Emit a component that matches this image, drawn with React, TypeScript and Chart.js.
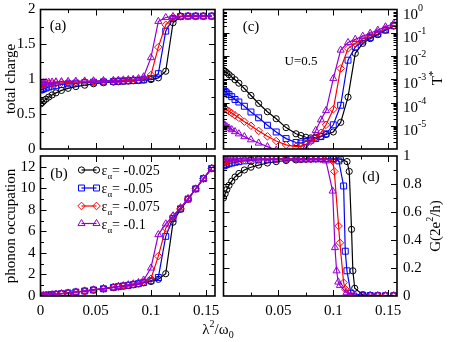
import React, { useEffect, useRef } from "react";
import { Chart, registerables } from "chart.js";

Chart.register(...registerables);

const W = 450;
const H = 342;
const SERIF = '"Liberation Serif", "Times New Roman", Times, serif';

// common lambda^2/omega_0 grid for panels (a), (b), (c)
const LAMBDA_X = [0, 0.0015, 0.003, 0.005, 0.0075, 0.0105, 0.014, 0.019, 0.025, 0.032, 0.04, 0.048, 0.057, 0.066, 0.0705, 0.075, 0.0795, 0.084, 0.0887, 0.0934, 0.1, 0.1067, 0.1134, 0.12, 0.1268, 0.1336, 0.1405, 0.1475, 0.155];

// (a) total charge
const CHARGE_EPS_0025 = [0.645, 0.665, 0.69, 0.715, 0.745, 0.775, 0.805, 0.84, 0.87, 0.895, 0.915, 0.935, 0.95, 0.96, 0.965, 0.97, 0.975, 0.978, 0.982, 0.988, 0.995, 1.02, 1.115, 1.81, 1.9, 1.905, 1.905, 1.905, 1.905];
const CHARGE_EPS_005 = [0.845, 0.855, 0.865, 0.875, 0.888, 0.9, 0.912, 0.925, 0.935, 0.945, 0.952, 0.958, 0.963, 0.968, 0.972, 0.975, 0.978, 0.982, 0.986, 0.992, 1.01, 1.08, 1.69, 1.87, 1.9, 1.905, 1.905, 1.905, 1.905];
const CHARGE_EPS_0075 = [0.915, 0.92, 0.925, 0.93, 0.935, 0.94, 0.945, 0.95, 0.955, 0.96, 0.963, 0.966, 0.97, 0.974, 0.977, 0.98, 0.984, 0.988, 0.995, 1.01, 1.06, 1.46, 1.78, 1.89, 1.9, 1.905, 1.905, 1.905, 1.905];
const CHARGE_EPS_01 = [0.945, 0.948, 0.951, 0.954, 0.957, 0.96, 0.963, 0.966, 0.969, 0.972, 0.975, 0.977, 0.98, 0.983, 0.986, 0.99, 0.995, 1.0, 1.01, 1.035, 1.31, 1.83, 1.885, 1.9, 1.905, 1.905, 1.905, 1.905, 1.905];

// (b) phonon occupation
const PHONON_EPS_0025 = [0.0, 0.02, 0.04, 0.06, 0.09, 0.12, 0.16, 0.21, 0.28, 0.37, 0.46, 0.56, 0.67, 0.8, 0.86, 0.92, 0.97, 1.04, 1.12, 1.22, 1.35, 1.55, 2.07, 6.85, 8.05, 9.0, 9.95, 10.9, 11.85];
const PHONON_EPS_005 = [0.0, 0.02, 0.04, 0.06, 0.09, 0.12, 0.16, 0.21, 0.28, 0.37, 0.46, 0.56, 0.67, 0.8, 0.87, 0.93, 0.99, 1.06, 1.15, 1.26, 1.42, 1.72, 5.54, 7.2, 8.1, 9.0, 9.95, 10.9, 11.85];
const PHONON_EPS_0075 = [0.0, 0.02, 0.04, 0.06, 0.09, 0.12, 0.16, 0.21, 0.28, 0.37, 0.46, 0.56, 0.68, 0.81, 0.88, 0.94, 1.01, 1.09, 1.18, 1.32, 1.6, 3.7, 6.3, 7.4, 8.15, 9.0, 9.95, 10.9, 11.85];
const PHONON_EPS_01 = [0.0, 0.02, 0.04, 0.06, 0.09, 0.12, 0.16, 0.21, 0.28, 0.37, 0.47, 0.57, 0.69, 0.82, 0.89, 0.96, 1.04, 1.13, 1.25, 1.48, 2.6, 5.7, 6.7, 7.45, 8.2, 9.05, 9.95, 10.9, 11.85];

// (c) T* (log scale)
const TSTAR_EPS_0025 = [2.45e-3, 2.14e-3, 1.9e-3, 1.58e-3, 1.26e-3, 9.5e-4, 6.8e-4, 4e-4, 2e-4, 9.1e-5, 4e-5, 2e-5, 8.3e-6, 4.5e-6, 3.8e-6, 3.2e-6, 3e-6, 3.2e-6, 3.5e-6, 4.2e-6, 5.4e-6, 1.4e-5, 1.7e-4, 1.3e-2, 3.5e-2, 5.6e-2, 8.3e-2, 0.13, 0.195];
const TSTAR_EPS_005 = [3.4e-4, 2.95e-4, 2.57e-4, 2.19e-4, 1.78e-4, 1.35e-4, 1.05e-4, 6.9e-5, 3.9e-5, 2.2e-5, 1.05e-5, 5.4e-6, 2.8e-6, 1.9e-6, 1.8e-6, 2.1e-6, 2.4e-6, 2.8e-6, 3.4e-6, 4.5e-6, 1.1e-5, 7.6e-5, 6.6e-3, 2.45e-2, 4.4e-2, 6.3e-2, 8.9e-2, 0.13, 0.2];
const TSTAR_EPS_0075 = [6.0e-5, 5.4e-5, 4.8e-5, 4.2e-5, 3.5e-5, 2.8e-5, 2.2e-5, 1.5e-5, 1.0e-5, 6.0e-6, 3.5e-6, 2.2e-6, 1.5e-6, 1.26e-6, 1.3e-6, 1.6e-6, 2.1e-6, 3.0e-6, 5.0e-6, 1.1e-5, 5.1e-5, 2.9e-3, 2.1e-2, 3.5e-2, 5.4e-2, 7.6e-2, 0.105, 0.145, 0.21];
const TSTAR_EPS_01 = [1.15e-5, 1.02e-5, 9.1e-6, 7.9e-6, 6.8e-6, 5.6e-6, 4.5e-6, 3.4e-6, 2.5e-6, 1.8e-6, 1.26e-6, 8.9e-7, 6.3e-7, 5.6e-7, 7.9e-7, 1.1e-6, 2.5e-6, 6.3e-6, 1.8e-5, 4.5e-5, 1.07e-3, 1.8e-2, 3.8e-2, 5.2e-2, 7.1e-2, 9.5e-2, 0.13, 0.18, 0.25];

// (d) conductance, each curve with its own grid
const G_X_EPS_0025 = [0, 0.0015, 0.003, 0.005, 0.0075, 0.0105, 0.014, 0.019, 0.025, 0.032, 0.04, 0.048, 0.057, 0.066, 0.0705, 0.075, 0.0795, 0.084, 0.0887, 0.0934, 0.1, 0.1067, 0.1125, 0.1145, 0.1166, 0.1178, 0.1195, 0.1268, 0.1336, 0.1405, 0.1475, 0.155];
const G_EPS_0025 = [0.7, 0.73, 0.76, 0.79, 0.82, 0.85, 0.875, 0.9, 0.92, 0.935, 0.95, 0.96, 0.968, 0.972, 0.975, 0.977, 0.978, 0.98, 0.98, 0.98, 0.98, 0.978, 0.96, 0.89, 0.476, 0.18, 0.055, 0.01, 0.006, 0.004, 0.003, 0.002];
const G_X_EPS_005 = [0, 0.0015, 0.003, 0.005, 0.0075, 0.0105, 0.014, 0.019, 0.025, 0.032, 0.04, 0.048, 0.057, 0.066, 0.0705, 0.075, 0.0795, 0.084, 0.0887, 0.0934, 0.1, 0.105, 0.1094, 0.1109, 0.1124, 0.116, 0.1268, 0.1336, 0.1405, 0.1475, 0.155];
const G_EPS_005 = [0.93, 0.935, 0.94, 0.945, 0.95, 0.955, 0.96, 0.965, 0.968, 0.972, 0.975, 0.977, 0.978, 0.98, 0.98, 0.98, 0.98, 0.98, 0.98, 0.98, 0.978, 0.965, 0.786, 0.32, 0.18, 0.02, 0.005, 0.003, 0.002, 0.002, 0.002];
const G_X_EPS_0075 = [0, 0.0015, 0.003, 0.005, 0.0075, 0.0105, 0.014, 0.019, 0.025, 0.032, 0.04, 0.048, 0.057, 0.066, 0.0705, 0.075, 0.0795, 0.084, 0.0887, 0.0934, 0.0994, 0.1009, 0.1048, 0.106, 0.1094, 0.111, 0.116, 0.1268, 0.1336, 0.1405, 0.1475, 0.155];
const G_EPS_0075 = [0.955, 0.958, 0.96, 0.963, 0.966, 0.968, 0.97, 0.972, 0.975, 0.977, 0.978, 0.979, 0.98, 0.98, 0.98, 0.98, 0.98, 0.98, 0.98, 0.98, 0.965, 0.89, 0.5, 0.38, 0.095, 0.048, 0.005, 0.003, 0.002, 0.002, 0.002, 0.002];
const G_X_EPS_01 = [0, 0.0015, 0.003, 0.005, 0.0075, 0.0105, 0.014, 0.019, 0.025, 0.032, 0.04, 0.048, 0.057, 0.066, 0.0705, 0.075, 0.0795, 0.084, 0.0887, 0.0933, 0.0994, 0.1015, 0.103, 0.1045, 0.106, 0.112, 0.12, 0.1268, 0.1336, 0.1405, 0.1475, 0.155];
const G_EPS_01 = [0.975, 0.976, 0.977, 0.978, 0.979, 0.98, 0.98, 0.98, 0.98, 0.98, 0.98, 0.98, 0.98, 0.98, 0.98, 0.98, 0.98, 0.98, 0.98, 0.965, 0.75, 0.346, 0.18, 0.1, 0.076, 0.024, 0.004, 0.002, 0.002, 0.002, 0.002, 0.002];

const EPS_LABELS = ["-0.025", "-0.05", "-0.075", "-0.1"];
const COLORS = ["#000000", "#0000ff", "#ff0000", "#9400d3"];
const MARKERS = ["circle", "rect", "rectRot", "triangle"];
const MARKER_R = [3.1, 4.2, 3.8, 4.1];

const X_MIN = 0;
const X_MAX = 0.158;
const X_MAJOR = [0, 0.05, 0.1, 0.15];
const X_TICK_LABELS = ["0", "0.05", "0.1", "0.15"];
const X_MINOR = [0.025, 0.075, 0.125];

const CHARGE_TICKS = [0, 0.5, 1, 1.5, 2];
const CHARGE_TICK_LABELS = ["0", "0.5", "1", "1.5", "2"];
const CHARGE_MINOR = [0.25, 0.75, 1.25, 1.75];

const PHONON_TICKS = [0, 2, 4, 6, 8, 10, 12];
const PHONON_TICK_LABELS = ["0", "2", "4", "6", "8", "10", "12"];
const PHONON_MINOR = [1, 3, 5, 7, 9, 11];

const TSTAR_EXPONENTS = [0, -1, -2, -3, -4, -5, -6];
const TSTAR_LABEL_EXPONENTS = ["0", "-1", "-2", "-3", "-4", "-5"];

const G_TICKS = [0, 0.2, 0.4, 0.6, 0.8, 1];
const G_TICK_LABELS = ["0", "0.2", "0.4", "0.6", "0.8", "1"];
const G_MINOR = [0.1, 0.3, 0.5, 0.7, 0.9];

type Seg = { t: string; size: number; dy?: number };

function drawRich(ctx: any, segs: Seg[], x: number, y: number, align: "left" | "center") {
  const widths = segs.map((s) => {
    ctx.font = `${s.size}px ${SERIF}`;
    return ctx.measureText(s.t).width;
  });
  const total = widths.reduce((p, w) => p + w, 0);
  let cx = align === "center" ? x - total / 2 : x;
  ctx.textAlign = "left";
  ctx.textBaseline = "alphabetic";
  segs.forEach((s, i) => {
    ctx.font = `${s.size}px ${SERIF}`;
    ctx.fillText(s.t, cx, y + (s.dy || 0));
    cx += widths[i];
  });
}

function drawRotated(ctx: any, segs: Seg[], cx: number, cy: number, baseOff: number) {
  ctx.save();
  ctx.translate(cx, cy);
  ctx.rotate(-Math.PI / 2);
  drawRich(ctx, segs, 0, baseOff, "center");
  ctx.restore();
}

function drawMarker(ctx: any, style: string, x: number, y: number, r: number, color: string) {
  ctx.beginPath();
  if (style === "circle") {
    ctx.arc(x, y, r, 0, Math.PI * 2);
  } else if (style === "rect") {
    const s = r * Math.SQRT1_2;
    ctx.rect(x - s, y - s, 2 * s, 2 * s);
  } else if (style === "rectRot") {
    ctx.moveTo(x - r, y);
    ctx.lineTo(x, y - r);
    ctx.lineTo(x + r, y);
    ctx.lineTo(x, y + r);
    ctx.closePath();
  } else {
    let rad = 0;
    ctx.moveTo(x + Math.sin(rad) * r, y - Math.cos(rad) * r);
    rad += (2 * Math.PI) / 3;
    ctx.lineTo(x + Math.sin(rad) * r, y - Math.cos(rad) * r);
    rad += (2 * Math.PI) / 3;
    ctx.lineTo(x + Math.sin(rad) * r, y - Math.cos(rad) * r);
    ctx.closePath();
  }
  ctx.strokeStyle = color;
  ctx.lineWidth = 1;
  ctx.stroke();
}

function yLabelsLeft(ctx: any, a: any, ys: any, vals: number[], labels: string[]) {
  ctx.font = `15px ${SERIF}`;
  ctx.textAlign = "right";
  ctx.textBaseline = "middle";
  vals.forEach((v, i) => ctx.fillText(labels[i], a.left - 5, ys.getPixelForValue(v)));
}

function yLabelsRight(ctx: any, a: any, ys: any, vals: number[], labels: string[]) {
  ctx.font = `15px ${SERIF}`;
  ctx.textAlign = "left";
  ctx.textBaseline = "middle";
  vals.forEach((v, i) => ctx.fillText(labels[i], a.right + 6, ys.getPixelForValue(v)));
}

function xLabels(ctx: any, a: any, xs: any, skipZero: boolean) {
  ctx.font = `15px ${SERIF}`;
  ctx.textAlign = "center";
  ctx.textBaseline = "alphabetic";
  X_MAJOR.forEach((v, i) => {
    if (skipZero && v === 0) return;
    ctx.fillText(X_TICK_LABELS[i], xs.getPixelForValue(v), a.bottom + 19);
  });
}

function panelText(ctx: any, t: string, x: number, y: number, size = 15) {
  ctx.font = `${size}px ${SERIF}`;
  ctx.textAlign = "center";
  ctx.textBaseline = "middle";
  ctx.fillText(t, x, y);
}

type Panel = {
  key: string;
  area: { left: number; top: number; right: number; bottom: number };
  yMin: number;
  yMax: number;
  yLog: boolean;
  series: { x: number[]; y: number[] }[];
  yMajor: number[];
  yMinor: number[];
  extra: (ctx: any, a: any, xs: any, ys: any) => void;
};

const logMinor: number[] = [];
TSTAR_EXPONENTS.forEach((e) => {
  if (e >= 0) return;
  for (let m = 2; m <= 9; m++) logMinor.push(m * Math.pow(10, e));
});

const PANELS: Panel[] = [
  {
    key: "a",
    area: { left: 40.5, top: 9.5, right: 215, bottom: 149 },
    yMin: 0,
    yMax: 2,
    yLog: false,
    series: [CHARGE_EPS_0025, CHARGE_EPS_005, CHARGE_EPS_0075, CHARGE_EPS_01].map((y) => ({ x: LAMBDA_X, y })),
    yMajor: CHARGE_TICKS,
    yMinor: CHARGE_MINOR,
    extra: (ctx, a, xs, ys) => {
      yLabelsLeft(ctx, a, ys, CHARGE_TICKS, CHARGE_TICK_LABELS);
      panelText(ctx, "(a)", 58, 26);
      drawRotated(ctx, [{ t: "total charge", size: 15 }], 10.5, 79, 4);
    },
  },
  {
    key: "b",
    area: { left: 40.5, top: 156, right: 215, bottom: 296 },
    yMin: 0,
    yMax: 13,
    yLog: false,
    series: [PHONON_EPS_0025, PHONON_EPS_005, PHONON_EPS_0075, PHONON_EPS_01].map((y) => ({ x: LAMBDA_X, y })),
    yMajor: PHONON_TICKS,
    yMinor: PHONON_MINOR,
    extra: (ctx, a, xs, ys) => {
      yLabelsLeft(ctx, a, ys, PHONON_TICKS, PHONON_TICK_LABELS);
      xLabels(ctx, a, xs, false);
      panelText(ctx, "(b)", 59, 174);
      drawRotated(ctx, [{ t: "phonon occupation", size: 15 }], 10.5, 226, 4);
      ctx.fillStyle = "#000";
      drawRich(
        ctx,
        [
          { t: "λ", size: 15 },
          { t: "2", size: 10, dy: -7 },
          { t: "/ω", size: 15 },
          { t: "0", size: 10, dy: 4 },
        ],
        218,
        334,
        "center"
      );
      // legend
      const rows = [170, 188, 206, 223.5];
      EPS_LABELS.forEach((lab, i) => {
        const y = rows[i];
        ctx.strokeStyle = COLORS[i];
        ctx.lineWidth = 1.2;
        ctx.beginPath();
        ctx.moveTo(81.5, y);
        ctx.lineTo(96.5, y);
        ctx.stroke();
        drawMarker(ctx, MARKERS[i], 81.5, y, MARKER_R[i], COLORS[i]);
        drawMarker(ctx, MARKERS[i], 96.5, y, MARKER_R[i], COLORS[i]);
        ctx.fillStyle = "#000";
        drawRich(
          ctx,
          [
            { t: "ε", size: 14 },
            { t: "α", size: 9, dy: 4 },
            { t: "= " + lab, size: 14 },
          ],
          101.5,
          y + 5,
          "left"
        );
      });
    },
  },
  {
    key: "c",
    area: { left: 223.5, top: 9.5, right: 397, bottom: 149 },
    yMin: 1e-6,
    yMax: 1,
    yLog: true,
    series: [TSTAR_EPS_0025, TSTAR_EPS_005, TSTAR_EPS_0075, TSTAR_EPS_01].map((y) => ({ x: LAMBDA_X, y })),
    yMajor: TSTAR_EXPONENTS.map((e) => Math.pow(10, e)),
    yMinor: logMinor,
    extra: (ctx, a, xs, ys) => {
      TSTAR_LABEL_EXPONENTS.forEach((ex, i) => {
        const py = ys.getPixelForValue(Math.pow(10, TSTAR_EXPONENTS[i]));
        drawRich(
          ctx,
          [
            { t: "10", size: 15 },
            { t: ex, size: 10, dy: -8 },
          ],
          a.right + 6,
          py + 9,
          "left"
        );
      });
      panelText(ctx, "(c)", 251, 27);
      panelText(ctx, "U=0.5", 301, 62, 13);
      drawRotated(
        ctx,
        [
          { t: "T", size: 15 },
          { t: "*", size: 11, dy: -6 },
        ],
        437,
        78,
        5
      );
    },
  },
  {
    key: "d",
    area: { left: 223.5, top: 156, right: 397, bottom: 296 },
    yMin: 0,
    yMax: 1,
    yLog: false,
    series: [
      { x: G_X_EPS_0025, y: G_EPS_0025 },
      { x: G_X_EPS_005, y: G_EPS_005 },
      { x: G_X_EPS_0075, y: G_EPS_0075 },
      { x: G_X_EPS_01, y: G_EPS_01 },
    ],
    yMajor: G_TICKS,
    yMinor: G_MINOR,
    extra: (ctx, a, xs, ys) => {
      yLabelsRight(ctx, a, ys, G_TICKS, G_TICK_LABELS);
      xLabels(ctx, a, xs, true);
      panelText(ctx, "(d)", 371, 177);
      drawRotated(
        ctx,
        [
          { t: "G(2e", size: 15 },
          { t: "2", size: 10, dy: -7 },
          { t: "/h)", size: 15 },
        ],
        435,
        226,
        5
      );
    },
  },
];

function decorPlugin(p: Panel) {
  return {
    id: "decor_" + p.key,
    afterDraw(chart: any) {
      const ctx = chart.ctx;
      const a = chart.chartArea;
      const xs = chart.scales.x;
      const ys = chart.scales.y;
      ctx.save();
      ctx.strokeStyle = "#000";
      ctx.fillStyle = "#000";
      ctx.lineWidth = 1;
      const seg = (x1: number, y1: number, x2: number, y2: number) => {
        ctx.beginPath();
        ctx.moveTo(x1, y1);
        ctx.lineTo(x2, y2);
        ctx.stroke();
      };
      const xTick = (v: number, len: number) => {
        const p0 = xs.getPixelForValue(v);
        if (p0 < a.left + 1.5 || p0 > a.right - 1.5) return;
        const px = Math.round(p0) + 0.5;
        seg(px, a.bottom, px, a.bottom - len);
        seg(px, a.top, px, a.top + len);
      };
      const yTick = (v: number, len: number) => {
        const p0 = ys.getPixelForValue(v);
        if (p0 < a.top + 1.5 || p0 > a.bottom - 1.5) return;
        const py = Math.round(p0) + 0.5;
        seg(a.left, py, a.left + len, py);
        seg(a.right, py, a.right - len, py);
      };
      X_MAJOR.forEach((v) => xTick(v, 6));
      X_MINOR.forEach((v) => xTick(v, 3.5));
      p.yMajor.forEach((v) => yTick(v, 6));
      p.yMinor.forEach((v) => yTick(v, 3.5));
      ctx.lineWidth = 1.6;
      ctx.strokeRect(a.left, a.top, a.right - a.left, a.bottom - a.top);
      ctx.fillStyle = "#000";
      p.extra(ctx, a, xs, ys);
      ctx.restore();
    },
  };
}

function buildConfig(p: Panel): any {
  const a = p.area;
  return {
    type: "line",
    data: {
      datasets: p.series.map((s, i) => ({
        label: "eps " + EPS_LABELS[i],
        data: s.x.map((x, k) => ({ x, y: s.y[k] })),
        borderColor: COLORS[i],
        backgroundColor: "rgba(0,0,0,0)",
        pointBackgroundColor: "rgba(0,0,0,0)",
        pointBorderColor: COLORS[i],
        pointStyle: MARKERS[i],
        pointRadius: MARKER_R[i],
        pointBorderWidth: 1,
        borderWidth: 1.2,
        tension: 0,
        fill: false,
        order: 3 - i,
      })),
    },
    options: {
      responsive: false,
      animation: false,
      events: [],
      layout: {
        padding: { left: a.left, top: a.top, right: W - a.right, bottom: H - a.bottom },
      },
      plugins: { legend: { display: false }, tooltip: { enabled: false } },
      scales: {
        x: { type: "linear", min: X_MIN, max: X_MAX, display: false },
        y: { type: p.yLog ? "logarithmic" : "linear", min: p.yMin, max: p.yMax, display: false },
      },
    },
    plugins: [decorPlugin(p)],
  };
}

export default function App() {
  const canvases = useRef<(HTMLCanvasElement | null)[]>([]);
  useEffect(() => {
    const charts = PANELS.map((p, i) => new Chart(canvases.current[i] as HTMLCanvasElement, buildConfig(p)));
    return () => charts.forEach((c) => c.destroy());
  }, []);
  return (
    <div
      style={{
        position: "absolute",
        left: 0,
        top: 0,
        width: W,
        height: H,
        background: "#ffffff",
        overflow: "hidden",
      }}
    >
      {PANELS.map((p, i) => (
        <canvas
          key={p.key}
          ref={(el) => {
            canvases.current[i] = el;
          }}
          width={W}
          height={H}
          style={{ position: "absolute", left: 0, top: 0, width: W, height: H }}
        />
      ))}
    </div>
  );
}
